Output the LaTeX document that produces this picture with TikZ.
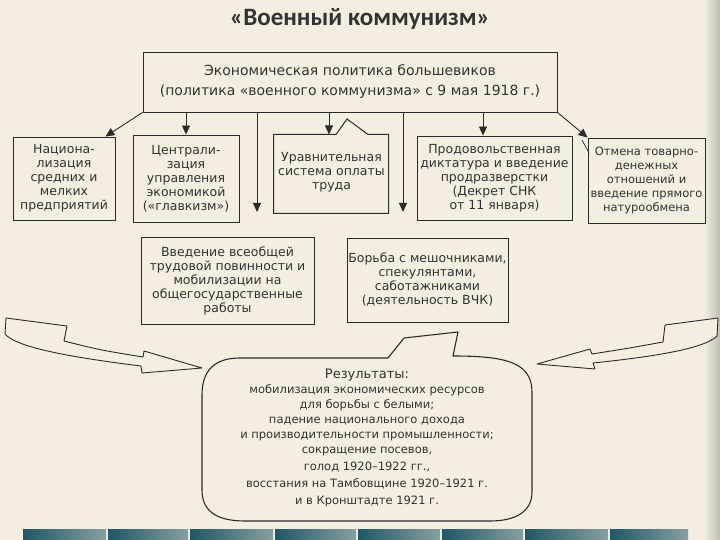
\documentclass[tikz,border=0pt]{standalone}
\usepackage{fontspec}
\setmainfont{DejaVu Sans}
\newfontfamily\titlefont{Carlito}
\usetikzlibrary{arrows.meta,calc}
\definecolor{bg}{HTML}{F4EEE1}
\definecolor{ink}{HTML}{2B2B2B}
\definecolor{txt}{HTML}{333333}
\definecolor{tealA}{HTML}{1E5866}
\definecolor{tealB}{HTML}{86A0A0}
\begin{document}
\begin{tikzpicture}[x=1pt,y=-1pt,
  box/.style={draw=ink,line width=0.9pt,align=center,text=txt,inner sep=0pt,font=\fontsize{12.5}{14}\selectfont},
  arr/.style={draw=ink,line width=0.9pt,-{Triangle[length=9pt,width=8pt]}},
  hollow/.style={draw=ink,line width=0.9pt,fill=bg,line join=round},
  outline/.style={draw=ink,line width=1pt,line join=miter}]
\fill[bg] (0,0) rectangle (720,540);
\useasboundingbox (0,0) rectangle (720,540);
\shade[left color=bg,right color=gray!45!bg] (704,0) rectangle (720,540);

\node[font=\titlefont\bfseries\fontsize{25}{30}\selectfont,text=txt] (title) at (360,19) {«Военный коммунизм»};

\node[box,minimum width=414pt,minimum height=60pt,font=\fontsize{14}{20}\selectfont] (top) at (350,82)
  {Экономическая политика большевиков\\(политика «военного коммунизма» с 9 мая 1918 г.)};

\node[box,minimum width=102pt,minimum height=83pt] (A) at (64,178.5) {Национа-\\лизация\\средних и\\мелких\\предприятий};
\node[box,minimum width=106pt,minimum height=87pt] (B) at (186,178.5) {Централи-\\зация\\управления\\экономикой\\(«главкизм»)};
\node[box,draw=none,minimum width=115pt,minimum height=79pt] (C) at (331.5,172) {Уравнительная\\система оплаты\\труда};
\draw[outline] (336,134.5) -- (347,119) -- (368,134.5) -- (388.5,134.5) -- (388.5,213.5) -- (273.5,213.5) -- (273.5,134.5) -- cycle;
\node[box,minimum width=155pt,minimum height=84pt] (D) at (494.5,178) {Продовольственная\\диктатура и введение\\продразверстки\\(Декрет СНК\\от 11 января)};
\node[box,minimum width=117pt,minimum height=85pt,font=\fontsize{11.5}{14}\selectfont] (E) at (646.5,180.5) {Отмена товарно-\\денежных\\отношений и\\введение прямого\\натурообмена};
\draw[ink,line width=0.7pt] (582,140) -- (589,153);

\node[box,minimum width=173pt,minimum height=87pt] (F) at (227.5,280.5) {Введение всеобщей\\трудовой повинности и\\мобилизации на\\общегосударственные\\работы};
\node[box,minimum width=161pt,minimum height=84pt] (G) at (427.5,280) {Борьба с мешочниками,\\спекулянтами,\\саботажниками\\(деятельность ВЧК)};

\draw[arr] (top.south west) -- ($(A.north east)+(-10,0)$);
\draw[arr] (B.north |- top.south) -- (B.north);
\coordinate (v1) at (257,212);
\draw[arr] (v1 |- top.south) -- (v1);
\coordinate (cin) at (329,134.5);
\draw[arr] (cin |- top.south) -- (cin);
\coordinate (v2) at (403,212);
\draw[arr] (v2 |- top.south) -- (v2);
\draw[arr] ([xshift=-11.5pt]D.north |- top.south) -- ([xshift=-11.5pt]D.north);
\draw[arr] (top.south east) -- (E.north west);

% results
\draw[ink,line width=1.1pt,line join=round] (240,358) -- (388,358) -- (404,338) -- (458,332) -- (453,356)
  .. controls (505,356) and (532,362) .. (532,392) -- (532,492)
  .. controls (532,512) and (515,521) .. (490,521) -- (245,521)
  .. controls (215,521) and (202,510) .. (202,490) -- (202,395)
  .. controls (202,370) and (215,358) .. (240,358) -- cycle;
\node[align=center,text=txt,font=\fontsize{11.5}{15}\selectfont] (R) at (367,438)
  {{\fontsize{13}{15}\selectfont Результаты:}\\мобилизация экономических ресурсов\\для борьбы с белыми;\\падение национального дохода\\и производительности промышленности;\\сокращение посевов,\\[2pt]голод 1920–1922 гг.,\\[2pt]восстания на Тамбовщине 1920–1921 г.\\[2pt]и в Кронштадте 1921 г.};

% hollow arrows
\draw[hollow] (6,318) -- (67,326) -- (64,341) .. controls (100,350) .. (143,357) -- (144,351) -- (202,368)
  -- (142,373) -- (141,366) .. controls (60,356) and (15,346) .. (5,334) -- cycle;
\draw[hollow] (718,318) -- (665,325) -- (663,342) .. controls (630,348) .. (592,354) -- (590,349) -- (537,364)
  -- (595,369) -- (593,363) .. controls (660,356) and (705,348) .. (717,336) -- cycle;

% footer strip
\foreach \a/\b in {23/106,108/188,190/273,275/356,358/440,442/523,525/608,610/688}
  \shade[left color=tealA,right color=tealB] (\a,529) rectangle (\b,540);
\end{tikzpicture}
\end{document}
